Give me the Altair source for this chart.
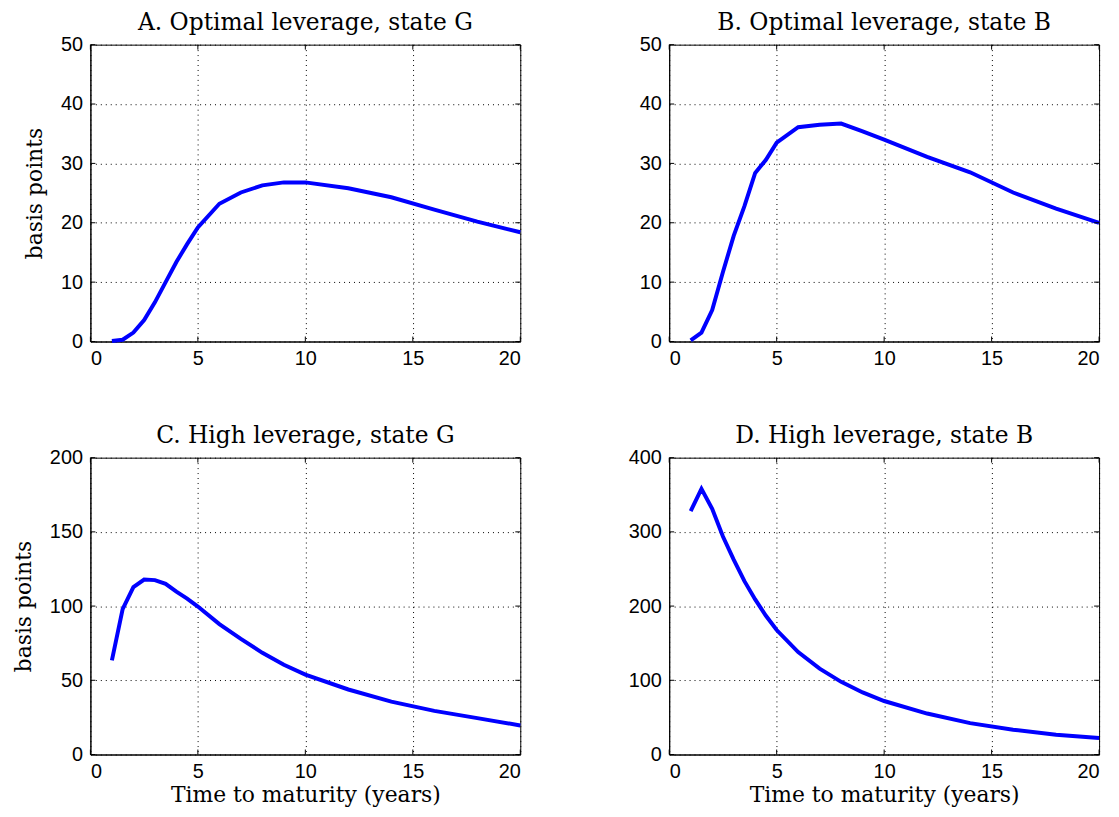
import altair as alt
import pandas as pd

maturity = [1, 1.5, 2, 2.5, 3, 3.5, 4, 4.5, 5, 6, 7, 8, 9, 10, 12, 14, 16, 18, 20]

opt_G = [0.1, 0.3, 1.5, 3.6, 6.6, 10.0, 13.4, 16.4, 19.2, 23.2, 25.1, 26.3, 26.8, 26.8, 25.8, 24.3, 22.2, 20.2, 18.4]
opt_B = [0.2, 1.5, 5.3, 11.7, 17.8, 22.8, 28.4, 30.6, 33.5, 36.1, 36.5, 36.7, 35.4, 34.0, 31.1, 28.5, 25.1, 22.4, 20.0]
high_G = [63.4, 97.9, 112.8, 117.9, 117.5, 115.0, 109.7, 105.0, 99.7, 87.9, 77.9, 68.5, 60.5, 53.8, 43.8, 35.6, 29.4, 24.5, 19.6]
high_B = [328, 358, 331, 293.7, 262.5, 233.6, 209, 186.9, 167.7, 138, 115.7, 97.9, 83.6, 72.1, 55.2, 42.3, 33.4, 26.7, 22.2]

titles = ["A. Optimal leverage, state G", "B. Optimal leverage, state B",
          "C. High leverage, state G", "D. High leverage, state B"]
y_max = [50, 50, 200, 400]
y_ticks = [[0, 10, 20, 30, 40, 50], [0, 10, 20, 30, 40, 50],
           [0, 50, 100, 150, 200], [0, 100, 200, 300, 400]]
x_ticks = [0, 5, 10, 15, 20]

SERIF = "DejaVu Serif"
SANS = "Liberation Sans"
H = 299
W = 433
TICK = 5


def panel(values, title, ymax, yt, ytitle, xtitle, width):
    df = pd.DataFrame({"t": maturity, "bp": values})
    xscale = alt.Scale(domain=[0, 20], nice=False, zero=False)
    yscale = alt.Scale(domain=[0, ymax], nice=False)
    xaxis = alt.Axis(values=x_ticks, labelPadding=7, titlePadding=3,
                     title="Time to maturity (years)" if xtitle else "")
    yaxis = alt.Axis(values=yt, labelPadding=8, titlePadding=14,
                     title="basis points" if ytitle else "")
    line = alt.Chart(df).mark_line(color="#0000FF", strokeWidth=4).encode(
        x=alt.X("t:Q", scale=xscale, axis=xaxis),
        y=alt.Y("bp:Q", scale=yscale, axis=yaxis),
    )
    xdf = pd.DataFrame({"t": x_ticks})
    ydf = pd.DataFrame({"bp": yt})
    tb = alt.Chart(xdf).mark_rule(color="black", strokeWidth=1).encode(
        x=alt.X("t:Q", scale=xscale, axis=xaxis), y=alt.value(H), y2=alt.value(H - TICK))
    tt = alt.Chart(xdf).mark_rule(color="black", strokeWidth=1).encode(
        x=alt.X("t:Q", scale=xscale, axis=xaxis), y=alt.value(0), y2=alt.value(TICK))
    tl = alt.Chart(ydf).mark_rule(color="black", strokeWidth=1).encode(
        y=alt.Y("bp:Q", scale=yscale, axis=yaxis), x=alt.value(0), x2=alt.value(TICK))
    tr = alt.Chart(ydf).mark_rule(color="black", strokeWidth=1).encode(
        y=alt.Y("bp:Q", scale=yscale, axis=yaxis), x=alt.value(width), x2=alt.value(width - TICK))
    return alt.layer(line, tb, tt, tl, tr).properties(
        width=width, height=H,
        title=alt.TitleParams(title, font=SERIF, fontSize=23.5, fontWeight="normal",
                              color="black", offset=0),
    )


series = [opt_G, opt_B, high_G, high_B]
charts = []
for i in range(4):
    charts.append(panel(series[i], titles[i], y_max[i], y_ticks[i],
                        ytitle=(i % 2 == 0), xtitle=(i >= 2), width=W))

chart = alt.concat(*charts, columns=2, spacing={"row": 117, "column": 150}).properties(
    bounds="flush",
    background="white",
    padding={"left": 4, "top": 0, "right": 3, "bottom": 5},
).configure_view(
    stroke="black", strokeWidth=1
).configure_axis(
    domain=True, domainColor="black", domainWidth=1,
    grid=True, gridColor="black", gridDash=[1, 4], gridOpacity=1, gridWidth=1,
    ticks=False,
    labelFont=SANS, labelFontSize=20, labelColor="black",
    titleFont=SERIF, titleFontSize=22, titleFontWeight="normal", titleColor="black",
)

chart.save("out.html", embed_options={"renderer": "svg", "actions": False})
